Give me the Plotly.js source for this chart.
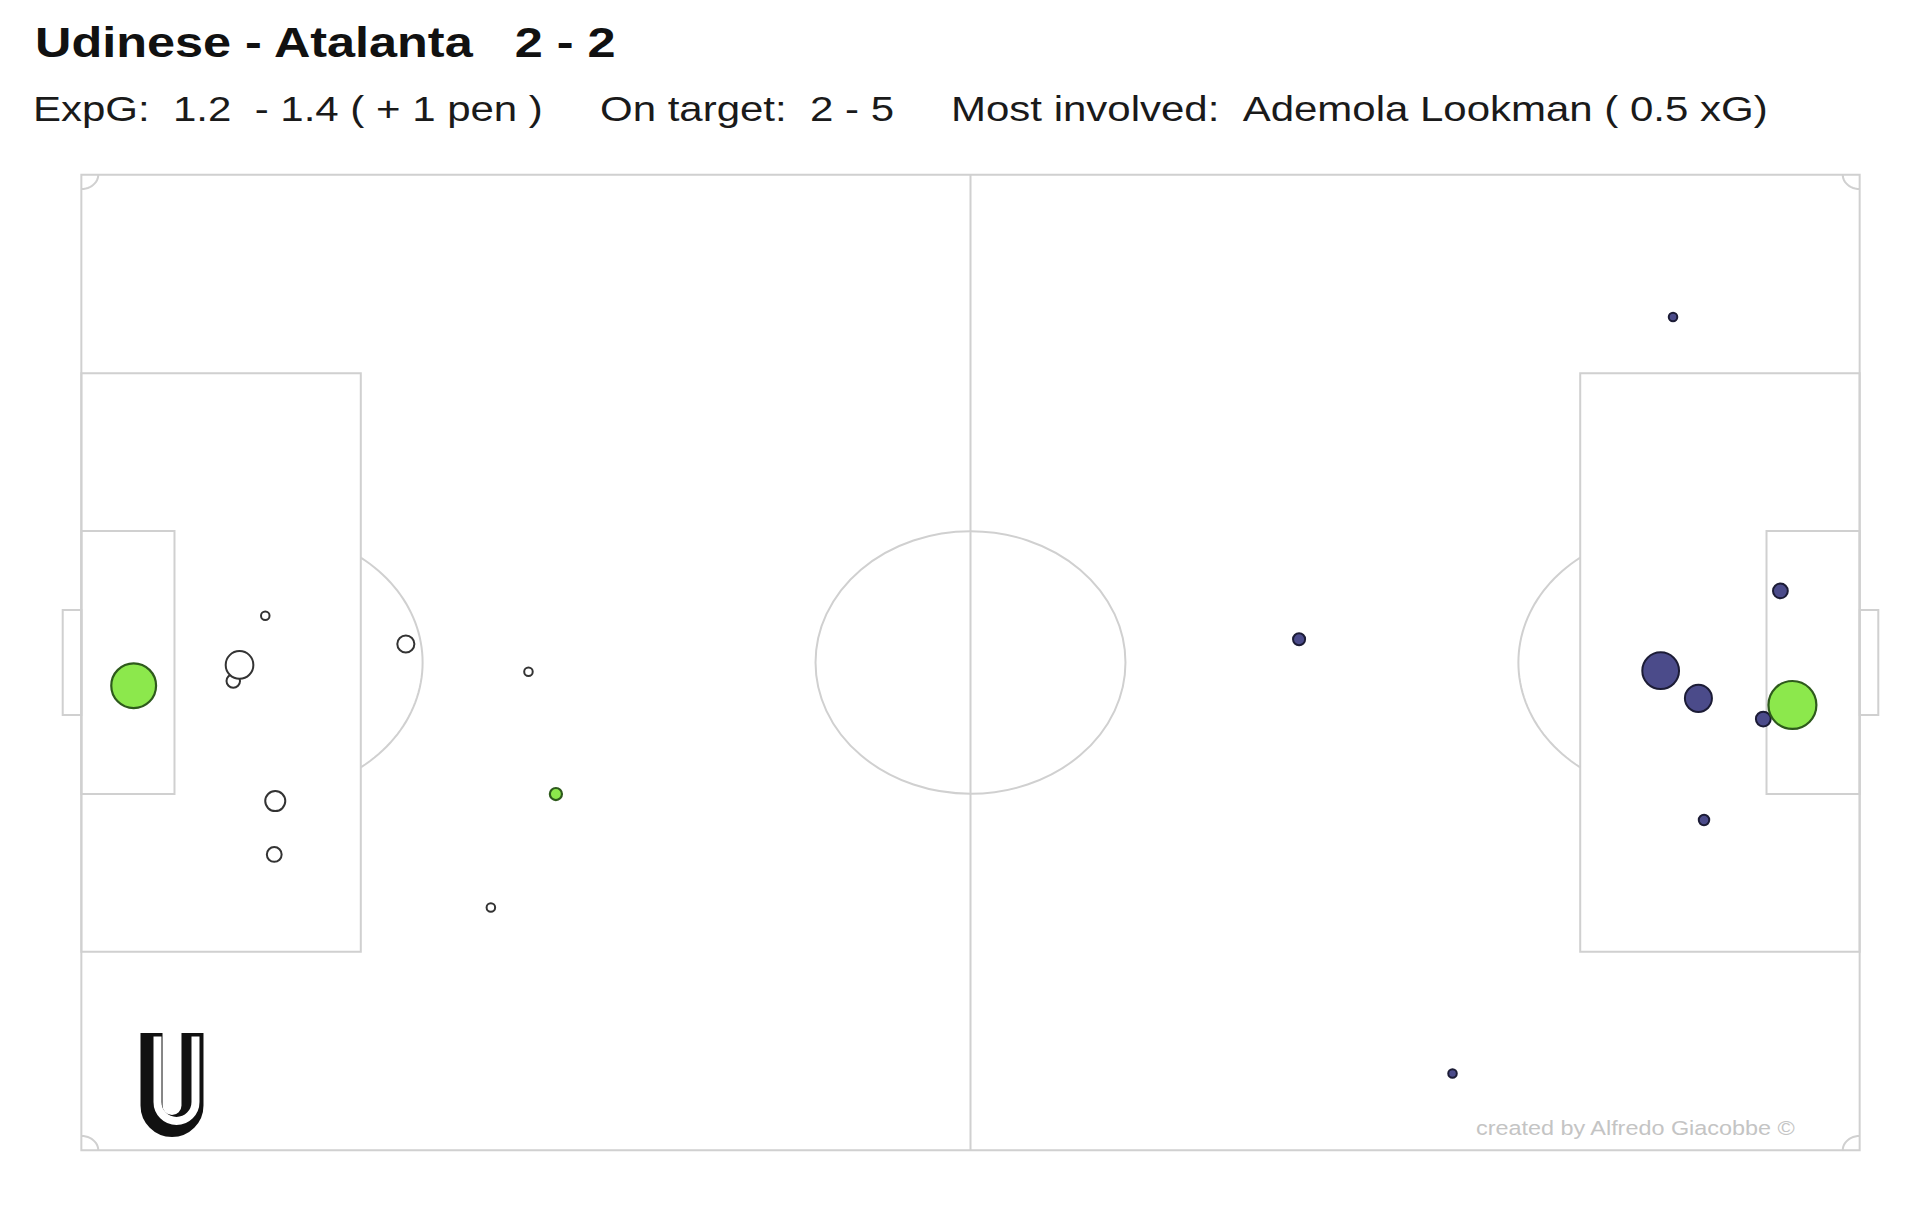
<!DOCTYPE html>
<html>
<head>
<meta charset="utf-8">
<script src="https://cdn.plot.ly/plotly-3.0.1.min.js"></script>
<style>
  html, body { margin: 0; padding: 0; background: #ffffff; }
  #chart { width: 1920px; height: 1223px; }
  /* widen header glyphs horizontally, anchored at each text's left edge */
  .annotation-text { transform: scaleX(1.2); transform-origin: 0 50%; transform-box: fill-box; }
</style>
</head>
<body>
<div id="chart"></div>
<script>
// ---- match summary ----
const matchTitle = 'Udinese - Atalanta\u00a0\u00a0\u00a02 - 2';
const statXg = 'ExpG:\u00a0\u00a01.2\u00a0\u00a0- 1.4 ( + 1 pen )';
const statOnTarget = 'On target:\u00a0\u00a02 - 5';
const statInvolved = 'Most involved:\u00a0\u00a0Ademola Lookman ( 0.5 xG)';
const creditText = 'created by Alfredo Giacobbe \u00a9';

// ---- Udinese shots (pitch metres, y measured from the top touchline) ----
const homeX    = [10.86, 8.97, 9.34, 19.16, 26.40, 11.45, 11.39, 24.18, 3.09, 28.02];
const homeY    = [30.74, 35.29, 34.17, 32.71, 34.64, 43.66, 47.38, 51.07, 35.62, 43.17];
const homeXg   = [0.02, 0.05, 0.21, 0.08, 0.02, 0.11, 0.06, 0.02, 0.55, 0.04];
const homeGoal = [0, 0, 0, 0, 0, 0, 0, 0, 1, 1];

// ---- Atalanta shots ----
const awayX    = [100.32, 93.25, 95.48, 99.31, 95.81, 93.98, 71.90, 80.96, 101.03];
const awayY    = [29.01, 34.57, 36.50, 37.94, 44.98, 9.92, 32.38, 62.65, 36.96];
const awayXg   = [0.06, 0.37, 0.20, 0.06, 0.03, 0.02, 0.04, 0.02, 0.63];
const awayGoal = [0, 0, 0, 0, 0, 0, 0, 0, 1];

// ---- pitch geometry (metres) ----
const PITCH_L = 105, PITCH_W = 68;
const BOX_D = 16.5, BOX_W = 40.32, SIX_D = 5.5, SIX_W = 18.32, GOAL_W = 7.32, GOAL_D = 1.1;
const SPOT_D = 11, CIRCLE_R = 9.15, CORNER_R = 1;

// ---- plot frame ----
const M = { l: 39, r: 18, t: 146, b: 44 };
const X_RANGE = [-2.5, 107.5], Y_RANGE = [70, -2];
const PLOT_W = 1920 - M.l - M.r, PLOT_H = 1223 - M.t - M.b;
const pxToX = px => X_RANGE[0] + (px - M.l) / PLOT_W * (X_RANGE[1] - X_RANGE[0]);
const pyToY = py => Y_RANGE[1] + (py - M.t) / PLOT_H * (Y_RANGE[0] - Y_RANGE[1]);
const pxToPaper = px => (px - M.l) / PLOT_W;
const pyToPaper = py => (1223 - M.b - py) / PLOT_H;

const XG_SIZE = 60.4; // marker diameter = XG_SIZE * sqrt(xG), so area follows xG
const sizeOf = v => XG_SIZE * Math.sqrt(v);

const LINE = { color: '#d0d0d0', width: 2 };
const shapes = [];
const rect = (x0, y0, x1, y1) => shapes.push({ type: 'rect', xref: 'x', yref: 'y', x0, y0, x1, y1, line: LINE, layer: 'below' });
const path = (d, line = LINE) => shapes.push({ type: 'path', xref: 'x', yref: 'y', path: d, line, layer: 'below' });

// touchlines and halfway line
rect(0, 0, PITCH_L, PITCH_W);
path(`M ${PITCH_L / 2},0 L ${PITCH_L / 2},${PITCH_W}`);
shapes.push({ type: 'circle', xref: 'x', yref: 'y',
  x0: PITCH_L / 2 - CIRCLE_R, x1: PITCH_L / 2 + CIRCLE_R,
  y0: PITCH_W / 2 - CIRCLE_R, y1: PITCH_W / 2 + CIRCLE_R, line: LINE, layer: 'below' });

// boxes and goals at both ends
const mid = PITCH_W / 2;
rect(0, mid - BOX_W / 2, BOX_D, mid + BOX_W / 2);
rect(PITCH_L - BOX_D, mid - BOX_W / 2, PITCH_L, mid + BOX_W / 2);
rect(0, mid - SIX_W / 2, SIX_D, mid + SIX_W / 2);
rect(PITCH_L - SIX_D, mid - SIX_W / 2, PITCH_L, mid + SIX_W / 2);
rect(-GOAL_D, mid - GOAL_W / 2, 0, mid + GOAL_W / 2);
rect(PITCH_L, mid - GOAL_W / 2, PITCH_L + GOAL_D, mid + GOAL_W / 2);

// penalty arcs: part of the circle round each spot that lies outside the box
function arcPath(cx, cy, r, a0, a1, n) {
  let d = '';
  for (let i = 0; i <= n; i++) {
    const a = a0 + (a1 - a0) * i / n;
    d += (i ? ' L ' : 'M ') + (cx + r * Math.cos(a)).toFixed(3) + ',' + (cy + r * Math.sin(a)).toFixed(3);
  }
  return d;
}
const arcHalf = Math.acos((BOX_D - SPOT_D) / CIRCLE_R);
path(arcPath(SPOT_D, mid, CIRCLE_R, -arcHalf, arcHalf, 48));
path(arcPath(PITCH_L - SPOT_D, mid, CIRCLE_R, Math.PI - arcHalf, Math.PI + arcHalf, 48));

// corner arcs
path(arcPath(0, 0, CORNER_R, 0, Math.PI / 2, 12));
path(arcPath(PITCH_L, 0, CORNER_R, Math.PI / 2, Math.PI, 12));
path(arcPath(0, PITCH_W, CORNER_R, -Math.PI / 2, 0, 12));
path(arcPath(PITCH_L, PITCH_W, CORNER_R, Math.PI, 1.5 * Math.PI, 12));

// club crest: outlined "U" with a dark extrusion on its left
function uPath(xl, xr, top, bottom) {
  const r = (xr - xl) / 2, xc = (xl + xr) / 2, cy = bottom - r, k = 0.5523 * r;
  const P = (px, py) => pxToX(px).toFixed(3) + ',' + pyToY(py).toFixed(3);
  return `M ${P(xl, top)} L ${P(xl, cy)} C ${P(xl, cy + k)} ${P(xc - k, bottom)} ${P(xc, bottom)} ` +
         `C ${P(xc + k, bottom)} ${P(xr, cy + k)} ${P(xr, cy)} L ${P(xr, top)}`;
}
const crestShapes = [
  { type: 'path', xref: 'x', yref: 'y', path: uPath(151.5, 192.5, 1033, 1126), line: { color: '#111111', width: 22 }, layer: 'above' },
  { type: 'path', xref: 'x', yref: 'y', path: uPath(157.5, 195.5, 1036.5, 1121), line: { color: '#ffffff', width: 8 }, layer: 'above' }
];

// ---- shot traces ----
function pick(arr, flags, want) { return arr.filter((_, i) => flags[i] === want); }
function shotTrace(xs, ys, xg, flags, want, fill, edge, edgeWidth) {
  const g = pick(xg, flags, want);
  return {
    type: 'scatter', mode: 'markers', hoverinfo: 'skip', showlegend: false,
    x: pick(xs, flags, want), y: pick(ys, flags, want),
    marker: { size: g.map(sizeOf), color: fill, line: { color: edge, width: edgeWidth }, opacity: 1 }
  };
}
const GREEN = '#8ce84c', GREEN_EDGE = '#2e5a1c';
const traces = [
  shotTrace(homeX, homeY, homeXg, homeGoal, 0, '#ffffff', '#333333', 2),
  shotTrace(awayX, awayY, awayXg, awayGoal, 0, '#4b4b8a', '#1c1c36', 2),
  shotTrace(homeX, homeY, homeXg, homeGoal, 1, GREEN, GREEN_EDGE, 2.2),
  shotTrace(awayX, awayY, awayXg, awayGoal, 1, GREEN, GREEN_EDGE, 2.2)
];

// ---- header text ----
const FONT = 'Liberation Sans, Arial, Helvetica, sans-serif';
const note = (text, px, py, size, color, weight) => ({
  text, xref: 'paper', yref: 'paper', x: pxToPaper(px), y: pyToPaper(py),
  xanchor: 'left', yanchor: 'middle', showarrow: false, align: 'left',
  font: { family: FONT, size, color, weight: weight || 400 }
});
const annotations = [
  note('<b>' + matchTitle + '</b>', 33, 42, 42, '#111111', 700),
  note(statXg, 31, 108, 35, '#1a1a1a'),
  note(statOnTarget, 598, 108, 35, '#1a1a1a'),
  note(statInvolved, 949, 108, 35, '#1a1a1a'),
  note(creditText, 1474, 1129, 19.5, '#c4c4c4')
];

const axis = { visible: false, showgrid: false, zeroline: false, fixedrange: true };
const layout = {
  width: 1920, height: 1223,
  margin: M,
  paper_bgcolor: '#ffffff', plot_bgcolor: '#ffffff',
  xaxis: Object.assign({ range: X_RANGE }, axis),
  yaxis: Object.assign({ range: Y_RANGE }, axis),
  shapes: shapes.concat(crestShapes),
  annotations,
  showlegend: false,
  hovermode: false
};

Plotly.newPlot('chart', traces, layout, { displayModeBar: false, staticPlot: true });
</script>
</body>
</html>
